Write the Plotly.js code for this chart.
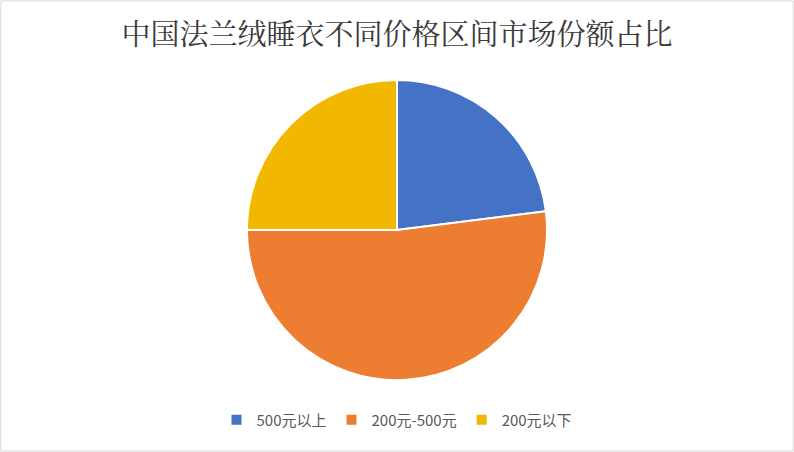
<!DOCTYPE html>
<html>
<head>
<meta charset="utf-8">
<script src="https://cdn.plot.ly/plotly-3.0.1.min.js"></script>
<style>
  html, body { margin: 0; padding: 0; background: #fff; }
  #chart { width: 794px; height: 452px; }
</style>
</head>
<body>
<div id="chart"></div>
<script>
// 价格区间与份额（%）
const priceRanges = ["500元以上", "200元-500元", "200元以下"];
const shares = [23, 52, 25];
const sliceColors = ["#4472C4", "#ED7D31", "#F2B800"];

const trace = {
    type: "pie",
    labels: priceRanges,
    values: shares,
    sort: false,
    direction: "clockwise",
    rotation: 0,
    textinfo: "none",
    hoverinfo: "label+percent",
    marker: {
        colors: sliceColors,
        line: { color: "#ffffff", width: 2 }
    },
    domain: { x: [0.311, 0.689], y: [0.159, 0.823] }
};

const layout = {
    width: 794,
    height: 452,
    title: {
        text: "中国法兰绒睡衣不同价格区间市场份额占比",
        x: 0.5,
        xanchor: "center",
        y: 0.922,
        yanchor: "middle",
        font: { family: "Noto Serif CJK SC, Noto Sans CJK SC, serif", size: 29, color: "#3a3a3a" }
    },
    showlegend: true,
    legend: {
        orientation: "h",
        x: 0.5,
        xanchor: "center",
        y: 0.071,
        yanchor: "middle",
        font: { family: "Noto Sans CJK SC, sans-serif", size: 15, color: "#595959" },
        itemwidth: 16,
        traceorder: "normal"
    },
    margin: { l: 0, r: 0, t: 0, b: 0 },
    paper_bgcolor: "#ffffff",
    shapes: [{
        type: "rect", xref: "paper", yref: "paper",
        x0: 0.001, x1: 0.999, y0: 0.002, y1: 0.998,
        line: { color: "#d9d9d9", width: 1 }
    }]
};

Plotly.newPlot("chart", [trace], layout, { displayModeBar: false, staticPlot: true });
</script>
</body>
</html>
